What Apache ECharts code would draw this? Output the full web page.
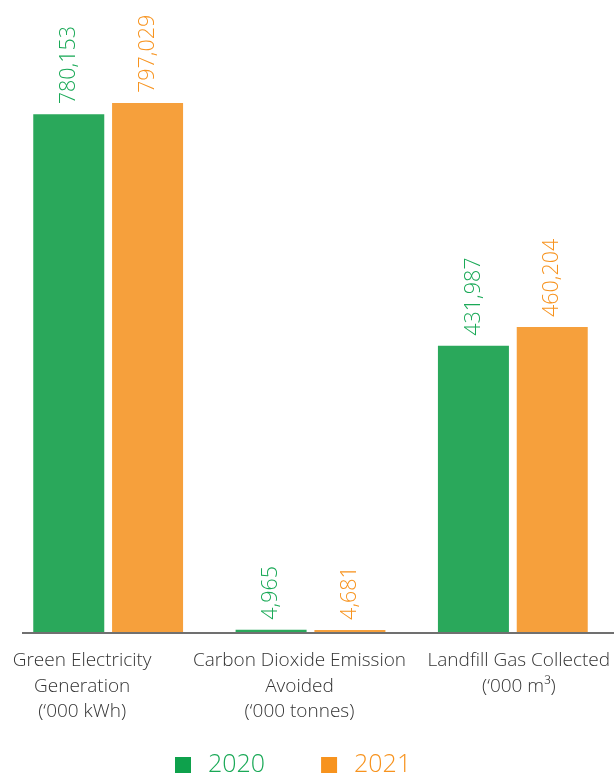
<!DOCTYPE html>
<html>
<head>
<meta charset="utf-8">
<script src="https://cdn.jsdelivr.net/npm/echarts@6/dist/echarts.min.js"></script>
<style>
    html, body { margin: 0; padding: 0; background: #fff; }
    #chart { width: 614px; height: 777px; }
</style>
</head>
<body>
<div id="chart"></div>
<script>
// categories and values
const categories = [
    'Green Electricity\nGeneration\n(\u2018000 kWh)',
    'Carbon Dioxide Emission\nAvoided\n(\u2018000 tonnes)',
    'Landfill Gas Collected\n(\u2018000 m\u00b3)'
];
const years = ['2020', '2021'];
const values2020 = [780153, 4965, 431987];
const values2021 = [797029, 4681, 460204];

const green = '#2aa85b';
const orange = '#f6a03c';
const font = '"Open Sans", "Noto Sans", sans-serif';

// labels in the original sit a bit off the bar groups
const labelPadding = [[0, 52, 0, 0], [0, 22, 0, 0], [0, 0, 0, 12]];

let chart = echarts.init(document.getElementById('chart'));

function makeSeries(name, data, color, textColor) {
    return {
        name: name,
        type: 'bar',
        data: data,
        barWidth: 71,
        barGap: '11%',
        itemStyle: {color: color},
        label: {
            show: true,
            position: 'top',
            rotate: 90,
            align: 'left',
            verticalAlign: 'middle',
            distance: 10,
            color: textColor,
            fontFamily: font,
            fontSize: 21.5,
            fontWeight: 300,
            formatter: p => p.value.toLocaleString('en-US')
        }
    };
}

chart.setOption({
    animation: false,
    grid: {left: 7, right: -3, top: 101, bottom: 144},
    legend: {
        top: 747,
        left: 170,
        itemWidth: 16,
        itemHeight: 16,
        itemGap: 56,
        icon: 'rect',
        textStyle: {fontFamily: font, fontSize: 25, fontWeight: 300, lineHeight: 26, padding: [0, 0, 0, 12]},
        data: [
            {name: years[0], itemStyle: {color: '#0ea14c'}, textStyle: {color: '#1aa957'}},
            {name: years[1], itemStyle: {color: '#f7931e'}, textStyle: {color: '#f7931e'}}
        ]
    },
    xAxis: {
        type: 'category',
        data: categories.map((c, i) => ({value: c, textStyle: {padding: labelPadding[i]}})),
        axisLine: {show: false},
        axisTick: {show: false},
        axisLabel: {
            interval: 0,
            margin: 15,
            color: '#333',
            fontFamily: font,
            fontSize: 19,
            fontWeight: 300,
            lineHeight: 25.5
        }
    },
    yAxis: {
        type: 'value',
        min: 0,
        max: 800000,
        show: false,
        splitLine: {show: false}
    },
    graphic: [{
        type: 'line',
        shape: {x1: 22, y1: 633, x2: 614, y2: 633},
        style: {stroke: '#707070', lineWidth: 2},
        z: 10
    }],
    series: [
        makeSeries(years[0], values2020, green, '#1aa957'),
        makeSeries(years[1], values2021, orange, '#f7931e')
    ]
});
</script>
</body>
</html>
